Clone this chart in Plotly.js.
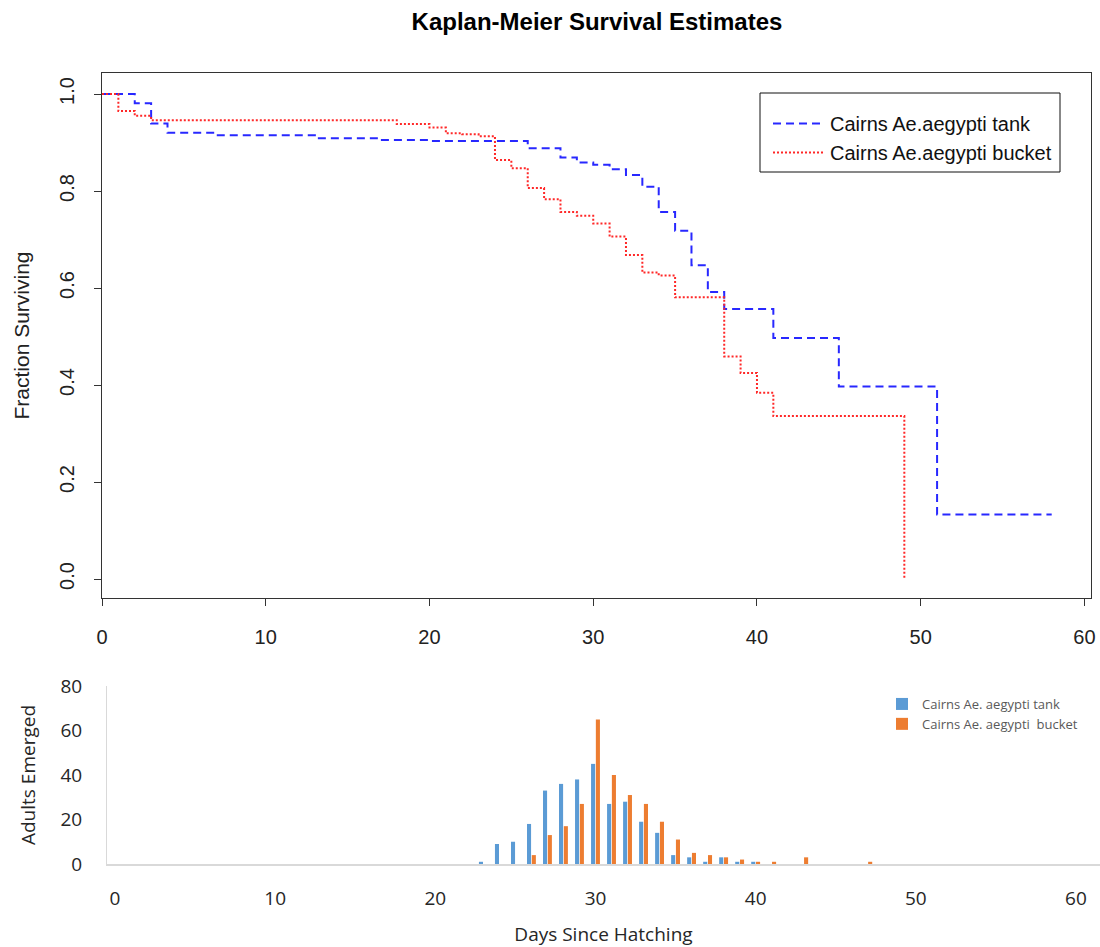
<!DOCTYPE html>
<html>
<head>
<meta charset="utf-8">
<script src="https://cdn.plot.ly/plotly-3.0.1.min.js"></script>
<style>
html,body{margin:0;padding:0;background:#fff;}
#chart{width:1100px;height:947px;}
</style>
</head>
<body>
<div id="chart"></div>
<script>
// Kaplan-Meier step data
const tankDays = [0, 2, 3, 4, 7, 13, 17, 20, 26, 28, 29, 30, 31, 32, 33, 34, 35, 36, 37, 38, 41, 45, 51, 58];
const tankSurv = [1.0, 0.981, 0.939, 0.920, 0.915, 0.909, 0.905, 0.903, 0.888, 0.869, 0.859, 0.854, 0.845, 0.833, 0.809, 0.757, 0.718, 0.647, 0.592, 0.557, 0.497, 0.397, 0.133, 0.133];
const bucketDays = [0, 1, 2, 3, 18, 20, 21, 22, 23, 24, 25, 26, 27, 28, 29, 30, 31, 32, 33, 34, 35, 38, 39, 40, 41, 49];
const bucketSurv = [1.0, 0.965, 0.955, 0.946, 0.938, 0.931, 0.919, 0.917, 0.913, 0.864, 0.847, 0.806, 0.783, 0.757, 0.749, 0.733, 0.706, 0.668, 0.632, 0.626, 0.581, 0.459, 0.425, 0.384, 0.336, 0.0];

// Adults emerged per day (bar chart)
const tankEmergeDays = [23, 24, 25, 26, 27, 28, 29, 30, 31, 32, 33, 34, 35, 36, 37, 38, 39, 40];
const tankEmerged = [1, 9, 10, 18, 33, 36, 38, 45, 27, 28, 19, 14, 4, 3, 1, 3, 1, 1];
const bucketEmergeDays = [26, 27, 28, 29, 30, 31, 32, 33, 34, 35, 36, 37, 38, 39, 40, 41, 43, 47];
const bucketEmerged = [4, 13, 17, 27, 65, 40, 31, 27, 19, 11, 5, 4, 3, 2, 1, 1, 3, 1];

const kmTicks = [0, 10, 20, 30, 40, 50, 60];
const survTicks = [0.0, 0.2, 0.4, 0.6, 0.8, 1.0];
const survTickText = ['0.0', '0.2', '0.4', '0.6', '0.8', '1.0'];
const emergeTicks = [0, 20, 40, 60, 80];

const R_FONT = 'Liberation Sans, Arial, sans-serif';
const X_FONT = 'Open Sans, Noto Sans, sans-serif';

const traces = [
  {x: tankDays, y: tankSurv, type: 'scatter', mode: 'lines', name: 'Cairns Ae.aegypti tank', legendgroup: 'a',
   line: {shape: 'hv', color: 'rgb(40,40,255)', width: 2, dash: '8px,5px'}, xaxis: 'x', yaxis: 'y', legend: 'legend'},
  {x: bucketDays, y: bucketSurv, type: 'scatter', mode: 'lines', name: 'Cairns Ae.aegypti bucket', legendgroup: 'b',
   line: {shape: 'hv', color: 'rgb(255,40,40)', width: 2, dash: '2px,2px'}, xaxis: 'x', yaxis: 'y', legend: 'legend'},
  {x: tankEmergeDays, y: tankEmerged, type: 'bar', name: 'Cairns Ae. aegypti tank',
   marker: {color: '#5B9BD5'}, xaxis: 'x2', yaxis: 'y2', legend: 'legend2'},
  {x: bucketEmergeDays, y: bucketEmerged, type: 'bar', name: 'Cairns Ae. aegypti  bucket',
   marker: {color: '#ED7D31'}, xaxis: 'x2', yaxis: 'y2', legend: 'legend2'}
];

// geometry: margins in px; plot area 998 x 791
const L = 102, T = 73, B = 83, W = 998, H = 791;
const px2x = p => (p - L) / W;
const py2y = p => (947 - B - p) / H;

const layout = {
  width: 1100, height: 947,
  margin: {l: L, r: 0, t: T, b: B, pad: 0},
  paper_bgcolor: '#ffffff', plot_bgcolor: '#ffffff',
  showlegend: true,
  barmode: 'group', bargap: 0.4, bargroupgap: 0.15,
  title: {text: '<b>Kaplan-Meier Survival Estimates</b>', font: {family: R_FONT, size: 24, color: '#000'},
          x: 597 / 1100, xanchor: 'center', y: 1 - 22 / 947, yanchor: 'middle', xref: 'container', yref: 'container'},
  xaxis: {domain: [0, px2x(1091)], range: [0, 60.4], tickvals: kmTicks, ticks: 'outside', ticklen: 7,
          tickcolor: '#333', tickwidth: 1, showline: true, linecolor: '#333', linewidth: 1, mirror: true,
          showgrid: false, zeroline: false, tickfont: {family: R_FONT, size: 20, color: '#222'},
          ticklabelstandoff: 14, anchor: 'y'},
  yaxis: {domain: [py2y(598), 1], range: [-0.039, 1.0433], tickvals: survTicks, ticktext: survTickText,
          ticks: 'outside', ticklen: 7, tickcolor: '#333', tickwidth: 1, tickangle: -90,
          showline: true, linecolor: '#333', linewidth: 1, mirror: true, showgrid: false, zeroline: false,
          tickfont: {family: R_FONT, size: 20, color: '#222'}, ticklabelstandoff: 12,
          title: {text: 'Fraction Surviving', font: {family: R_FONT, size: 21, color: '#222'}, standoff: 20},
          anchor: 'x'},
  xaxis2: {domain: [px2x(107), 1], range: [-0.5, 61.5], tickvals: kmTicks, ticks: '', showline: true,
           linecolor: '#d9d9d9', linewidth: 2, showgrid: false, zeroline: false,
           tickfont: {family: X_FONT, size: 19, color: '#262626'}, ticklabelstandoff: 16,
           title: {text: 'Days Since Hatching', font: {family: X_FONT, size: 19, color: '#262626'}, standoff: 18},
           anchor: 'y2'},
  yaxis2: {domain: [0, py2y(686)], range: [0, 80], tickvals: emergeTicks, ticks: '', showline: true,
           linecolor: '#d9d9d9', linewidth: 1, showgrid: false, zeroline: false,
           tickfont: {family: X_FONT, size: 19, color: '#262626'}, ticklabelstandoff: 20,
           title: {text: 'Adults Emerged', font: {family: X_FONT, size: 19, color: '#262626'}, standoff: 19},
           anchor: 'x2'},
  legend: {x: px2x(768), y: py2y(104), xanchor: 'left', yanchor: 'top', bgcolor: 'rgba(0,0,0,0)',
           borderwidth: 0, font: {family: R_FONT, size: 20, color: '#111'}, itemwidth: 52, tracegroupgap: 0},
  legend2: {x: px2x(882), y: py2y(689), xanchor: 'left', yanchor: 'top', bgcolor: 'rgba(0,0,0,0)',
            borderwidth: 0, font: {family: X_FONT, size: 13, color: '#595959'}, itemwidth: 30},
  shapes: [
    {type: 'rect', xref: 'paper', yref: 'paper', x0: px2x(760), x1: px2x(1060), y0: py2y(172), y1: py2y(93),
     line: {color: '#111', width: 1}, fillcolor: 'rgba(0,0,0,0)', layer: 'above'}
  ]
};

Plotly.newPlot('chart', traces, layout, {displayModeBar: false, staticPlot: true});
</script>
</body>
</html>
